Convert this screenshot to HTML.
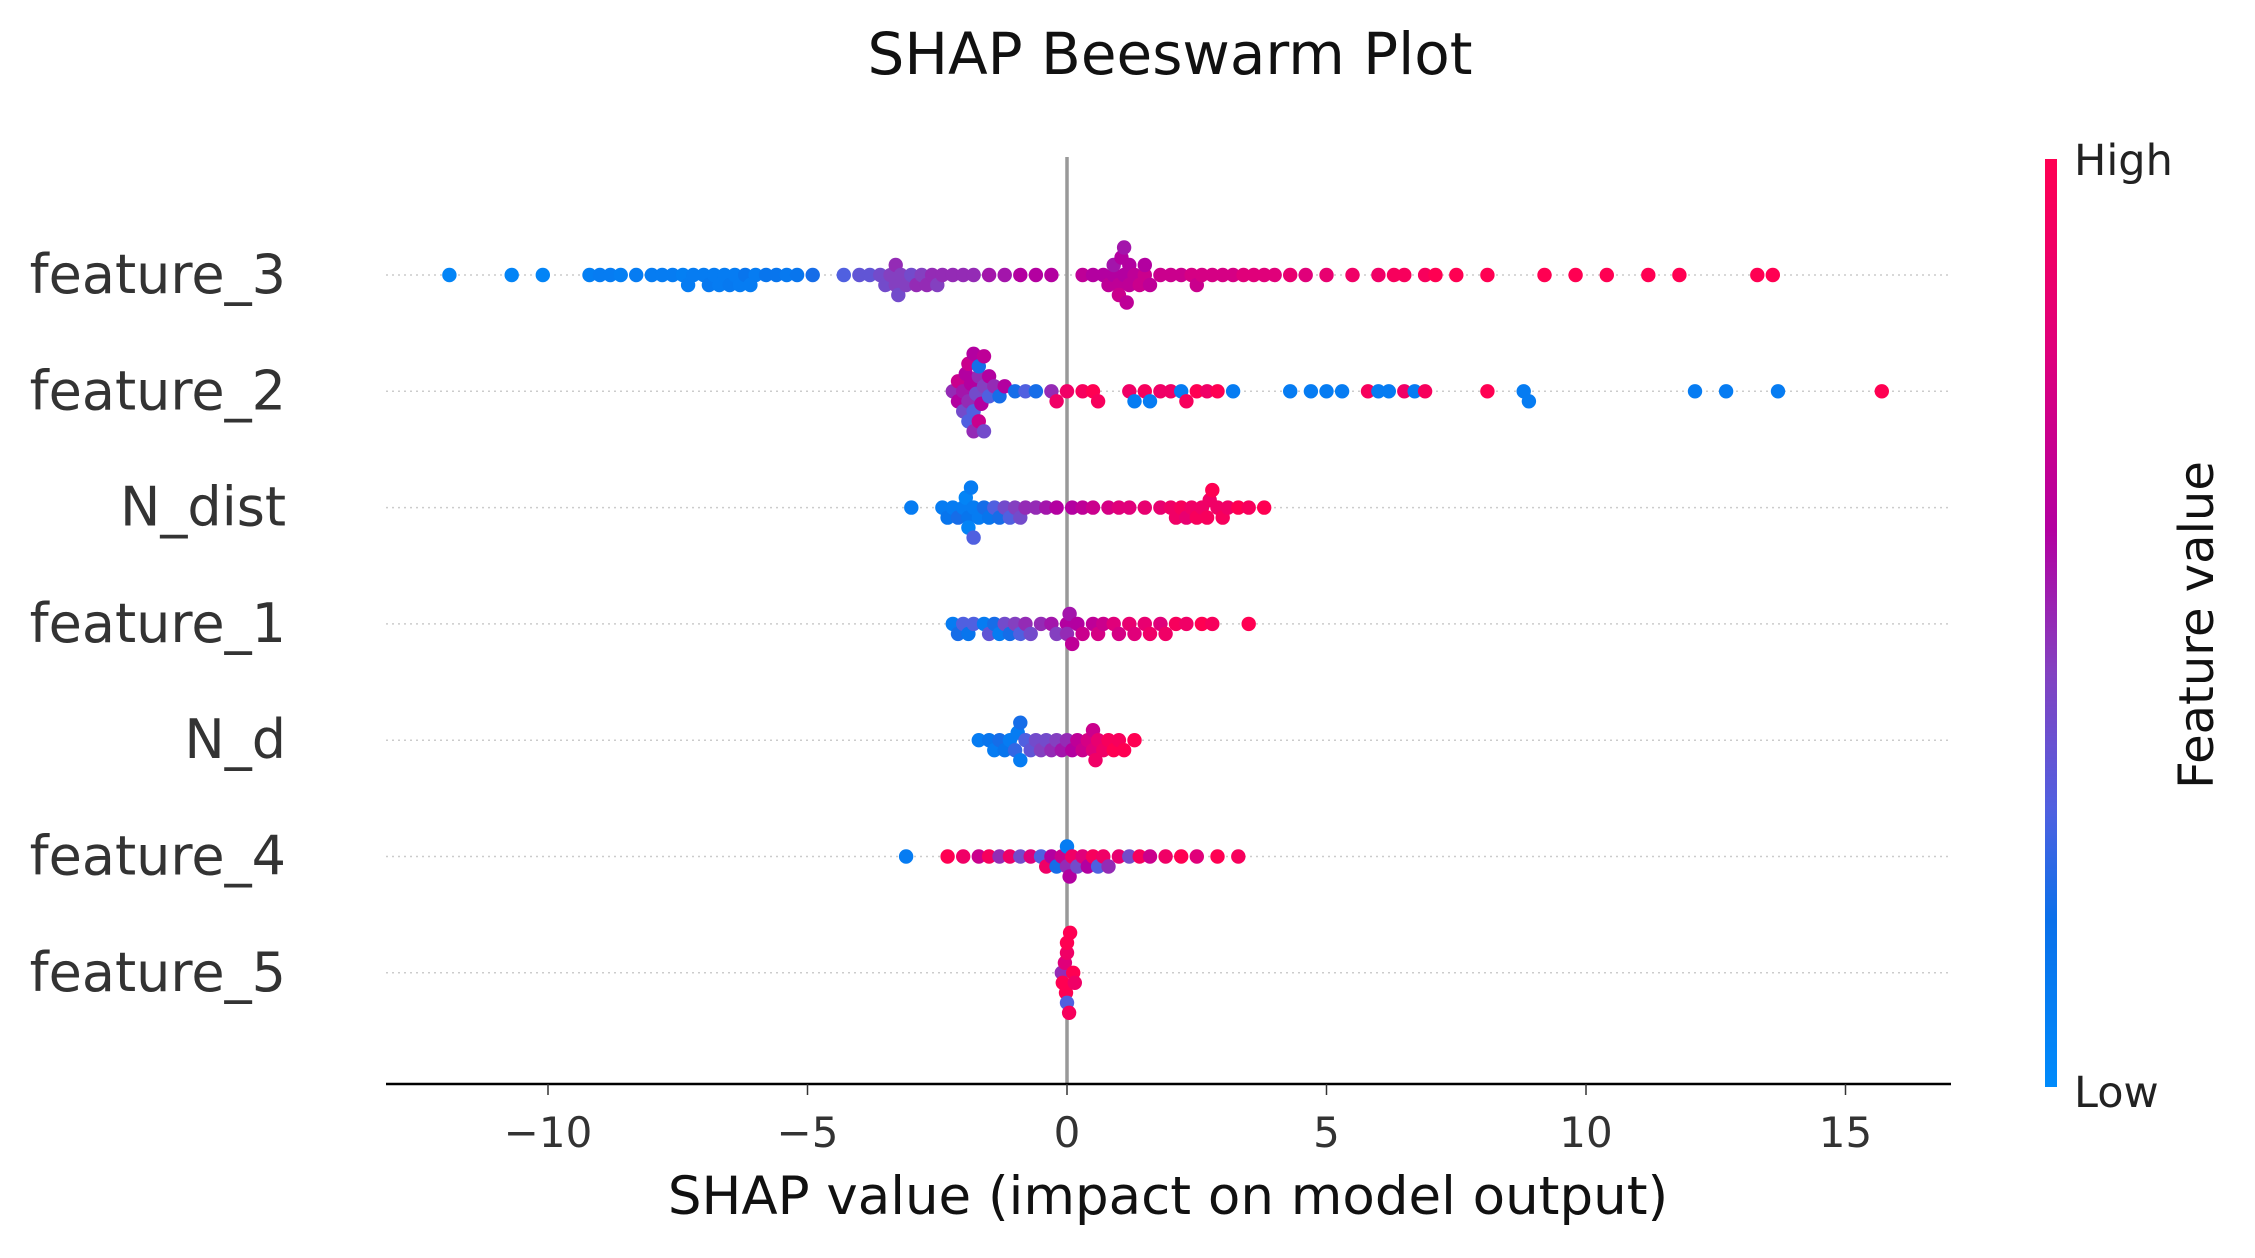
<!DOCTYPE html>
<html><head><meta charset="utf-8"><style>
html,body{margin:0;padding:0;background:#fff}
svg{display:block}
text{font-family:"DejaVu Sans","Liberation Sans",sans-serif}
</style></head><body>
<svg id="chart" width="2255" height="1258" viewBox="0 0 2255 1258" xmlns="http://www.w3.org/2000/svg">
<defs><linearGradient id="cbar" x1="0" y1="1" x2="0" y2="0">
<stop offset="0" stop-color="#008bfb"/><stop offset="0.18" stop-color="#0a70ea"/><stop offset="0.3" stop-color="#5060e0"/><stop offset="0.45" stop-color="#8440c0"/><stop offset="0.6" stop-color="#b300a0"/><stop offset="0.8" stop-color="#e0007a"/><stop offset="1" stop-color="#ff0052"/></linearGradient></defs>
<text x="1170" y="74" font-size="58" text-anchor="middle" fill="#111">SHAP Beeswarm Plot</text>
<g id="grid"></g>
<line x1="1067" y1="157" x2="1067" y2="1084" stroke="#999" stroke-width="3.5"/>
<g id="dots"></g>
<g id="ylabels"></g>
<line x1="386" y1="1084" x2="1951" y2="1084" stroke="#000" stroke-width="2.5"/>
<g id="xticks"></g>
<text x="1168" y="1214" font-size="53" text-anchor="middle" fill="#111">SHAP value (impact on model output)</text>
<rect x="2045" y="159" width="12" height="928" fill="url(#cbar)"/>
<text x="2074" y="175" font-size="43" fill="#222">High</text>
<text x="2074" y="1107" font-size="43" fill="#222">Low</text>
<text transform="translate(2213,625) rotate(-90)" font-size="48" text-anchor="middle" fill="#111">Feature value</text>
</svg>
<script>
const features = ["feature_3","feature_2","N_dist","feature_1","N_d","feature_4","feature_5"];
const xTicks = [-10,-5,0,5,10,15];
const f3 = [[-11.9,.05],[-10.7,.05],[-10.1,.05],[-9.2,.08],[-9.0,.1],[-8.8,.1],[-8.6,.08],[-8.3,.1],[-8.0,.1],[-7.8,.1],[-7.6,.1],[-7.4,.08],[-7.3,.1],[-7.2,.1],[-7.0,.1],[-6.9,.12],[-6.8,.1],[-6.7,.1],[-6.6,.1],[-6.5,.12],[-6.4,.1],[-6.3,.1],[-6.2,.15],[-6.1,.1],[-6.0,.1],[-5.8,.15],[-5.6,.15],[-5.4,.12],[-5.2,.15],[-4.9,.2],[-4.3,.3],[-4.0,.35],[-3.8,.35],[-3.6,.4],[-3.5,.4],[-3.4,.45],[-3.3,.45],[-3.3,.5],[-3.25,.4],[-3.2,.45],[-3.1,.45],[-3.0,.4],[-2.9,.5],[-2.8,.45],[-2.7,.5],[-2.6,.5],[-2.5,.45],[-2.4,.5],[-2.2,.5],[-2.0,.5],[-1.8,.5],[-1.5,.55],[-1.2,.55],[-0.9,.6],[-0.6,.6],[-0.3,.6],[0.3,.65],[0.5,.6],[0.7,.6],[0.8,.65],[0.9,.6],[0.9,.55],[1.0,.65],[1.0,.7],[1.05,.6],[1.1,.6],[1.1,.55],[1.15,.65],[1.2,.65],[1.2,.6],[1.3,.65],[1.4,.7],[1.5,.7],[1.5,.6],[1.6,.65],[1.8,.7],[2.0,.7],[2.2,.7],[2.4,.75],[2.5,.7],[2.6,.75],[2.8,.75],[3.0,.75],[3.2,.75],[3.4,.8],[3.6,.8],[3.8,.8],[4.0,.8],[4.3,.85],[4.6,.8],[5.0,.85],[5.5,.9],[6.0,.9],[6.3,.95],[6.5,.95],[6.9,.95],[7.1,1],[7.5,1],[8.1,1],[9.2,1],[9.8,1],[10.4,1],[11.2,1],[11.8,1],[13.3,1],[13.6,1]];
const f2 = [[-2.2,.5],[-2.1,.6],[-2.1,.7],[-2.0,.55],[-2.0,.4],[-1.95,.6],[-1.9,.5],[-1.9,.7],[-1.9,.3],[-1.85,.6],[-1.8,.3],[-1.8,.6],[-1.8,.5],[-1.75,.4],[-1.7,.5],[-1.7,.2],[-1.7,.7],[-1.65,.6],[-1.6,.45],[-1.6,.65],[-1.6,.4],[-1.5,.3],[-1.5,.6],[-1.4,.5],[-1.3,.2],[-1.2,.6],[-1.0,.2],[-0.8,.3],[-0.6,.2],[-0.3,.5],[-0.2,.9],[0.0,.9],[0.3,.95],[0.5,1],[0.6,.95],[1.2,.9],[1.3,.1],[1.5,.95],[1.6,.1],[1.8,.9],[2.0,.9],[2.2,.1],[2.3,.95],[2.5,1],[2.7,.9],[2.9,1],[3.2,.1],[4.3,.1],[4.7,.1],[5.0,.1],[5.3,.1],[5.8,.95],[6.0,.1],[6.2,.1],[6.5,.9],[6.7,.1],[6.9,.95],[8.1,1],[8.8,.1],[8.9,.1],[12.1,.1],[12.7,.1],[13.7,.1],[15.7,1]];
const fNdist = [[-3.0,.1],[-2.4,.1],[-2.3,.15],[-2.2,.1],[-2.1,.2],[-2.0,.1],[-1.95,.05],[-1.9,.15],[-1.9,.05],[-1.85,.1],[-1.8,.1],[-1.8,.3],[-1.7,.1],[-1.6,.2],[-1.5,.15],[-1.4,.3],[-1.3,.2],[-1.2,.4],[-1.1,.3],[-1.0,.45],[-0.9,.4],[-0.8,.5],[-0.6,.5],[-0.4,.55],[-0.2,.6],[0.1,.6],[0.3,.65],[0.5,.7],[0.8,.75],[1.0,.8],[1.2,.8],[1.5,.85],[1.8,.85],[2.0,.9],[2.1,.9],[2.2,.95],[2.3,.85],[2.4,.9],[2.5,.95],[2.6,.9],[2.7,.95],[2.75,.9],[2.8,1],[2.9,.9],[3.0,.95],[3.1,.9],[3.3,1],[3.5,.95],[3.8,1]];
const f1 = [[-2.2,.1],[-2.1,.2],[-2.0,.3],[-1.9,.15],[-1.8,.3],[-1.6,.1],[-1.5,.35],[-1.4,.2],[-1.3,.1],[-1.2,.4],[-1.1,.2],[-1.0,.45],[-0.9,.3],[-0.8,.5],[-0.7,.4],[-0.5,.5],[-0.3,.55],[-0.2,.45],[0.0,.6],[0.0,.5],[0.05,.55],[0.1,.65],[0.2,.6],[0.3,.7],[0.5,.65],[0.6,.75],[0.7,.7],[0.9,.8],[1.0,.75],[1.2,.85],[1.3,.8],[1.5,.85],[1.6,.9],[1.8,.8],[1.9,.9],[2.1,.95],[2.3,.9],[2.6,1],[2.8,.95],[3.5,1]];
const fNd = [[-1.7,.1],[-1.5,.15],[-1.4,.1],[-1.3,.2],[-1.2,.15],[-1.1,.1],[-1.0,.25],[-0.95,.1],[-0.9,.2],[-0.9,.1],[-0.8,.3],[-0.7,.35],[-0.6,.4],[-0.5,.45],[-0.4,.4],[-0.3,.5],[-0.2,.45],[-0.1,.55],[0.0,.5],[0.1,.6],[0.2,.65],[0.3,.7],[0.4,.75],[0.5,.8],[0.5,.7],[0.55,.9],[0.6,.85],[0.7,.9],[0.8,.95],[0.9,1],[1.0,.95],[1.1,1],[1.3,1]];
const f4 = [[-3.1,.1],[-2.3,1],[-2.0,.9],[-1.7,.7],[-1.5,.95],[-1.3,.5],[-1.1,.9],[-0.9,.4],[-0.7,.8],[-0.5,.3],[-0.4,.9],[-0.3,.6],[-0.2,.2],[-0.1,.7],[0.0,.5],[0.0,.1],[0.05,.6],[0.1,.9],[0.2,.4],[0.3,.8],[0.4,.6],[0.5,.95],[0.6,.3],[0.7,.9],[0.8,.5],[1.0,.85],[1.2,.4],[1.4,.95],[1.6,.7],[1.9,.9],[2.2,1],[2.5,.8],[2.9,1],[3.3,.95]];
const f5 = [[-0.08,1],[0.0,.9],[0.06,1],[-0.04,.8],[0.12,1],[0.0,.3],[-0.1,.5],[0.04,.95],[0.0,1],[0.15,.9],[-0.02,1]];
const series = [f3,f2,fNdist,f1,fNd,f4,f5];

const svg = document.getElementById('chart');
const NS = 'http://www.w3.org/2000/svg';
const X0 = 1067, XS = 51.9, ROW0 = 275, ROWH = 116.3, R = 7.2;
const xScale = v => X0 + v*XS;
const yScale = i => ROW0 + i*ROWH;
const stops = [[0,[0,139,251]],[0.18,[10,112,234]],[0.3,[80,96,224]],[0.45,[132,64,192]],[0.6,[179,0,160]],[0.8,[224,0,122]],[1,[255,0,82]]];
function color(t){for(let k=1;k<stops.length;k++){if(t<=stops[k][0]){const a=stops[k-1],b=stops[k],f=(t-a[0])/(b[0]-a[0]);return 'rgb('+a[1].map((c,j)=>Math.round(c+(b[1][j]-c)*f)).join(',')+')';}}return 'rgb(255,0,82)';}

const grid = document.getElementById('grid'), dots = document.getElementById('dots'), yl = document.getElementById('ylabels'), xt = document.getElementById('xticks');
features.forEach((name,i)=>{
  const y = yScale(i);
  const gl = document.createElementNS(NS,'line');
  
  
  gl.setAttribute('x1',386);gl.setAttribute('x2',1951);gl.setAttribute('y1',y);gl.setAttribute('y2',y);
  gl.setAttribute('stroke','#ccc');gl.setAttribute('stroke-width','1.5');gl.setAttribute('stroke-dasharray','2,4');
  grid.appendChild(gl);
  const t = document.createElementNS(NS,'text');
  
  
  t.setAttribute('x',286);t.setAttribute('y',y+18);t.setAttribute('text-anchor','end');t.setAttribute('font-size','54');t.setAttribute('fill','#333');
  t.textContent = name; yl.appendChild(t);
  const pts = series[i].map(p=>({x:xScale(p[0]),c:p[1]})).sort((a,b)=>a.x-b.x);
  const placed = [];
  pts.forEach(p=>{
    let off=0;
    for(let k=0;k<80;k++){
      const cand = k===0?0:(k%2?1:-1)*Math.ceil(k/2)*2.5;
      const ok = placed.every(q=>{const dx=q.x-p.x,dy=q.y-cand;return dx*dx+dy*dy>=(2*R*0.68)**2;});
      if(ok){off=cand;break;}
    }
    placed.push({x:p.x,y:off});
    const c = document.createElementNS(NS,'circle');
    
    
    c.setAttribute('cx',p.x.toFixed(1));c.setAttribute('cy',(y+off).toFixed(1));c.setAttribute('r',R);c.setAttribute('fill',color(p.c));
    dots.appendChild(c);
  });
});
xTicks.forEach(v=>{
  const x = xScale(v);
  const l = document.createElementNS(NS,'line');
  
  
  l.setAttribute('x1',x);l.setAttribute('x2',x);l.setAttribute('y1',1084);l.setAttribute('y2',1095);l.setAttribute('stroke','#333');l.setAttribute('stroke-width','1.5');
  xt.appendChild(l);
  const t = document.createElementNS(NS,'text');
  
  
  t.setAttribute('x',x);t.setAttribute('y',1147);t.setAttribute('text-anchor','middle');t.setAttribute('font-size','42');t.setAttribute('fill','#333');
  t.textContent = v<0?'\u2212'+(-v):String(v); xt.appendChild(t);
});
</script>
</body></html>
